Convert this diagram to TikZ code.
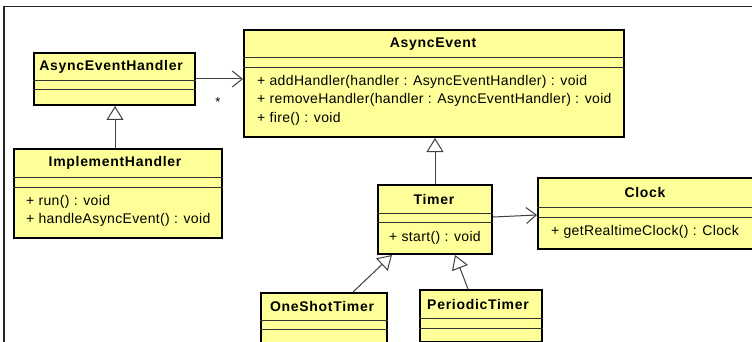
\documentclass[tikz,border=0pt]{standalone}
\usepackage{fontspec}
\setmainfont{Liberation Sans}
\usetikzlibrary{arrows.meta}
\definecolor{umlfill}{HTML}{FFFF99}
\newfontfamily\umltitlefont[LetterSpace=5]{Liberation Sans Bold}
\newfontfamily\umlopfont[LetterSpace=2.5]{Liberation Sans}
\tikzset{
  classbox/.style={draw=black, line width=2pt, fill=umlfill, rectangle, inner sep=0pt, anchor=north west},
  sepline/.style={draw=black!80, line width=1pt},
  title/.style={font=\umltitlefont\fontsize{14}{16}\selectfont, inner sep=0pt, anchor=center},
  optext/.style={font=\umlopfont\fontsize{14}{16}\selectfont, inner sep=0pt, anchor=west},
  assoc/.style={draw=black!75, line width=1pt, -{Straight Barb[length=10pt, width=16pt, line width=1pt]}},
  gen/.style={draw=black!75, line width=1pt, -{Triangle[open, length=14pt, width=17pt, line width=1pt, fill=white]}},
  frameline/.style={draw=black!85, line width=1.5pt}
}
\begin{document}
\begin{tikzpicture}[x=1pt, y=-1pt]
\useasboundingbox (0,0) rectangle (752,342);
\fill[white] (0,0) rectangle (752,342);
% frame
\coordinate (fa) at (4,6.5);
\coordinate (fb) at (760,6.5);
\coordinate (fc) at (4,350);
\draw[frameline] (fb) -- (fa) -- (fc);

% AsyncEventHandler
\node[classbox, minimum width=161pt, minimum height=52pt] (aeh) at (33,52) {};
\draw[sepline] ([yshift=-29pt]aeh.north west) -- ([yshift=-29pt]aeh.north east);
\draw[sepline] ([yshift=-38pt]aeh.north west) -- ([yshift=-38pt]aeh.north east);
\node[title] (aehT) at (111,67) {AsyncEventHandler};

% AsyncEvent
\node[classbox, minimum width=380pt, minimum height=107pt] (ae) at (243,29) {};
\draw[sepline] ([yshift=-29pt]ae.north west) -- ([yshift=-29pt]ae.north east);
\draw[sepline] ([yshift=-39pt]ae.north west) -- ([yshift=-39pt]ae.north east);
\node[title] (aeT) at (433,44) {AsyncEvent};
\node[optext] (ae1) at (257,82) {+ addHandler(handler : AsyncEventHandler) : void};
\node[optext] (ae2) at (257,100) {+ removeHandler(handler : AsyncEventHandler) : void};
\node[optext] (ae3) at (257,119) {+ fire() : void};

% ImplementHandler
\node[classbox, minimum width=208pt, minimum height=89pt] (ih) at (13,148) {};
\draw[sepline] ([yshift=-29pt]ih.north west) -- ([yshift=-29pt]ih.north east);
\draw[sepline] ([yshift=-39pt]ih.north west) -- ([yshift=-39pt]ih.north east);
\node[title] (ihT) at (115,163) {ImplementHandler};
\node[optext] (ih1) at (26,202) {+ run() : void};
\node[optext] (ih2) at (26,220) {+ handleAsyncEvent() : void};

% Timer
\node[classbox, minimum width=114pt, minimum height=69pt] (tm) at (377,184) {};
\draw[sepline] ([yshift=-29pt]tm.north west) -- ([yshift=-29pt]tm.north east);
\draw[sepline] ([yshift=-38pt]tm.north west) -- ([yshift=-38pt]tm.north east);
\node[title] (tmT) at (434,199) {Timer};
\node[optext] (tm1) at (389,238) {+ start() : void};

% Clock
\node[classbox, minimum width=218pt, minimum height=71pt] (ck) at (537,177) {};
\draw[sepline] ([yshift=-30pt]ck.north west) -- ([yshift=-30pt]ck.north east);
\draw[sepline] ([yshift=-40pt]ck.north west) -- ([yshift=-40pt]ck.north east);
\node[title] (ckT) at (645,192) {Clock};
\node[optext] (ck1) at (551,232) {+ getRealtimeClock() : Clock};

% OneShotTimer
\node[classbox, minimum width=126pt, minimum height=60pt] (ost) at (260,292) {};
\draw[sepline] ([yshift=-28pt]ost.north west) -- ([yshift=-28pt]ost.north east);
\draw[sepline] ([yshift=-37pt]ost.north west) -- ([yshift=-37pt]ost.north east);
\node[title] (ostT) at (322,306) {OneShotTimer};

% PeriodicTimer
\node[classbox, minimum width=122pt, minimum height=52pt] (pt) at (419,289) {};
\draw[sepline] ([yshift=-29pt]pt.north west) -- ([yshift=-29pt]pt.north east);
\draw[sepline] ([yshift=-39pt]pt.north west) -- ([yshift=-39pt]pt.north east);
\node[title] (ptT) at (478,304) {PeriodicTimer};

% connectors
\draw[assoc] (aeh.east |- 0,79) -- (ae.west |- 0,79);
\node[font=\fontsize{13}{14}\selectfont, inner sep=0pt] (star) at (218,102) {*};
\draw[gen] (ih.north -| 115,0) -- (aeh.south -| 115,0);
\draw[gen] (tm.north) -- (ae.south -| tm.north);
\draw[assoc] (tm.east |- 0,217) -- (ck.west |- 0,215);
\draw[gen] (ost.north -| 353,0) -- (tm.south -| 392,0);
\draw[gen] (pt.north -| 468,0) -- (tm.south -| 455,0);
\end{tikzpicture}
\end{document}
